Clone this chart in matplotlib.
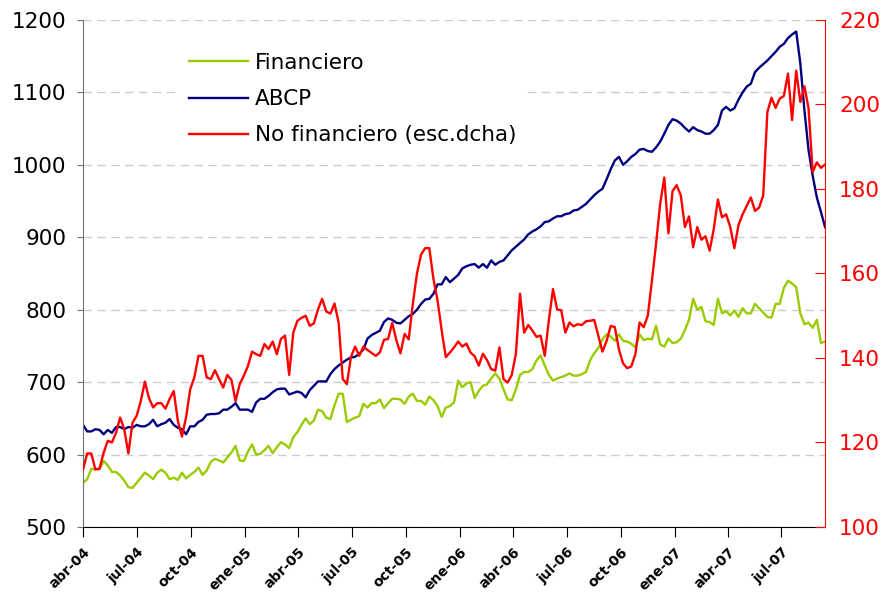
"""
Papel comercial: Financiero, ABCP y No financiero (escala dcha)
"""

import pandas as pd
import matplotlib
matplotlib.use('Agg')
from matplotlib import pyplot as plt

# valores semanales (abr-04 .. sep-07)
financiero = [
    561, 566, 580, 580, 580, 591, 585, 576, 576, 571,
    564, 555, 554, 561, 568, 575, 571, 566, 575, 579,
    575, 566, 568, 565, 575, 567, 572, 576, 582, 572,
    578, 590, 594, 592, 589, 596, 603, 612, 592, 591,
    604, 614, 600, 601, 606, 612, 602, 610, 617, 614,
    609, 624, 631, 641, 650, 642, 647, 662, 660, 651,
    649, 668, 684, 684, 645, 648, 651, 653, 670, 665,
    671, 671, 676, 664, 671, 677, 677, 676, 670, 680,
    684, 674, 674, 669, 680, 675, 667, 652, 665, 667,
    672, 702, 693, 698, 700, 678, 688, 695, 697, 705,
    712, 705, 690, 676, 675, 690, 710, 714, 714, 718,
    730, 737, 723, 710, 702, 705, 707, 709, 712, 709,
    709, 711, 714, 730, 740, 747, 759, 766, 763, 757,
    766, 757, 756, 753, 748, 766, 758, 760, 759, 778,
    752, 749, 760, 754, 755, 760, 772, 786, 815, 800,
    804, 784, 783, 779, 815, 795, 798, 792, 799, 790,
    802, 795, 795, 808, 802, 796, 790, 789, 808, 808,
    830, 840, 836, 831, 795, 780, 782, 775, 786, 754,
    756,
]

abcp = [
    641, 632, 632, 635, 634, 628, 634, 630, 638, 638,
    635, 638, 637, 641, 639, 639, 642, 648, 639, 642,
    644, 649, 641, 637, 635, 628, 639, 639, 645, 648,
    655, 656, 656, 657, 662, 662, 666, 671, 662, 662,
    662, 659, 672, 677, 677, 681, 686, 690, 691, 691,
    683, 685, 687, 685, 679, 689, 695, 701, 701, 701,
    711, 718, 723, 727, 731, 734, 735, 739, 745, 760,
    765, 768, 771, 783, 788, 786, 782, 781, 786, 791,
    794, 800, 808, 814, 815, 822, 835, 835, 845, 838,
    843, 848, 857, 860, 862, 863, 858, 863, 858, 868,
    862, 866, 868, 875, 882, 887, 892, 897, 904, 908,
    911, 915, 921, 922, 926, 929, 929, 932, 933, 937,
    938, 942, 946, 952, 958, 963, 967, 980, 994, 1006,
    1011, 1000, 1005, 1011, 1015, 1021, 1022, 1019, 1018, 1024,
    1032, 1043, 1055, 1063, 1061, 1057, 1051, 1046, 1052, 1048,
    1046, 1043, 1043, 1048, 1055, 1075, 1080, 1075, 1078, 1090,
    1100, 1108, 1112, 1128, 1134, 1139, 1144, 1150, 1156, 1163,
    1167, 1175, 1180, 1184, 1140, 1075, 1020, 985, 955, 935,
    914,
]

no_financiero = [
    113.6, 117.4, 117.4, 113.6, 113.8, 117.6, 120.4, 120.0, 122.3, 125.9,
    123.1, 117.4, 124.7, 126.3, 129.8, 134.4, 130.5, 128.3, 129.3, 129.3,
    128.0, 130.3, 132.2, 125.1, 121.4, 126.0, 132.6, 135.4, 140.5, 140.5,
    135.4, 135.0, 137.1, 135.0, 133.0, 136.0, 134.8, 129.8, 133.8, 135.8,
    138.1, 141.5, 140.9, 140.5, 143.3, 142.1, 143.9, 140.9, 144.5, 145.3,
    136.0, 146.0, 148.8, 149.5, 150.0, 147.6, 148.2, 151.5, 154.0, 151.0,
    150.5, 152.9, 148.4, 135.0, 133.8, 140.3, 142.7, 140.5, 142.7, 141.9,
    141.2, 140.5, 141.3, 144.3, 144.5, 148.3, 144.2, 141.1, 145.7, 144.4,
    152.8, 160.0, 164.5, 166.0, 166.0, 158.7, 153.6, 146.5, 140.2, 141.3,
    142.5, 143.9, 142.7, 143.4, 141.3, 140.4, 138.2, 141.0, 139.5, 137.4,
    137.0, 142.5, 135.0, 134.2, 136.0, 141.0, 155.2, 146.0, 147.8, 146.5,
    145.0, 145.3, 140.5, 149.0, 156.3, 151.5, 151.3, 146.0, 148.4, 147.5,
    148.0, 147.8, 148.7, 148.8, 149.0, 145.2, 141.5, 144.0, 147.6, 147.3,
    142.0, 138.7, 137.6, 138.0, 141.0, 148.4, 147.3, 150.0, 158.3, 167.0,
    176.5, 182.7, 169.5, 179.5, 180.9, 178.5, 171.0, 173.5, 166.2, 171.0,
    168.0, 168.8, 165.4, 170.5, 177.5, 173.3, 174.0, 171.0, 166.0, 171.5,
    174.0, 176.0, 178.0, 174.8, 175.6, 178.5, 198.2, 201.6, 199.2, 201.4,
    202.0, 207.3, 196.3, 208.0, 200.6, 204.3, 199.0, 184.0, 186.3, 185.0,
    185.8,
]

etiquetas = ['abr-04', 'jul-04', 'oct-04', 'ene-05', 'abr-05', 'jul-05', 'oct-05',
             'ene-06', 'abr-06', 'jul-06', 'oct-06', 'ene-07', 'abr-07', 'jul-07']
leyenda = ['Financiero', 'ABCP', 'No financiero (esc.dcha)']

fechas = pd.date_range('2004-04-01', periods=len(financiero), freq='7D')
ticks = pd.date_range('2004-04-01', periods=len(etiquetas), freq='QS')

plt.rcParams['font.family'] = 'DejaVu Sans'

fig = plt.figure(figsize=(8.91, 6.07), dpi=100)
ax = fig.add_axes([0.0932, 0.1318, 0.8328, 0.8353])
ax2 = ax.twinx()

l1, = ax.plot(fechas, financiero, color='#99cc00', lw=1.7)
l2, = ax.plot(fechas, abcp, color='#000080', lw=1.7)
l3, = ax2.plot(fechas, no_financiero, color='#ff0000', lw=1.7)

ax.set_xlim(fechas[0], fechas[-1])
ax.set_ylim(500, 1200)
ax2.set_ylim(100, 220)
ax.set_yticks(range(500, 1201, 100))
ax2.set_yticks(range(100, 221, 20))

ax.set_axisbelow(True)
ax.yaxis.grid(True, linestyle=(0, (6, 4)), color='#cccccc', lw=1)

for s in ['top', 'right']:
    ax.spines[s].set_visible(False)
for s in ['top', 'left', 'bottom']:
    ax2.spines[s].set_visible(False)
ax.spines['left'].set_color('#707070')
ax.spines['bottom'].set_color('black')
ax2.spines['right'].set_color('red')

ax.tick_params(axis='y', direction='out', length=4, color='#707070', labelsize=15.5, pad=8)
ax2.tick_params(axis='y', direction='in', length=7, color='red', labelcolor='red',
                labelsize=15.5, pad=10)
ax.tick_params(axis='x', direction='out', length=7, pad=6)
ax.set_xticks(ticks)
ax.set_xticklabels(etiquetas, rotation=45, ha='right', rotation_mode='anchor',
                   fontsize=10, fontweight='bold')

leg = ax2.legend([l1, l2, l3], leyenda, loc='upper left', bbox_to_anchor=(0.131, 0.952),
                 borderaxespad=0, borderpad=0.4, fontsize=15.5, handlelength=2.75,
                 handletextpad=0.33, labelspacing=0.75, frameon=True, fancybox=False)
leg.get_frame().set_facecolor('white')
leg.get_frame().set_edgecolor('none')
leg.get_frame().set_alpha(1)

plt.savefig('out.png', dpi=100)
